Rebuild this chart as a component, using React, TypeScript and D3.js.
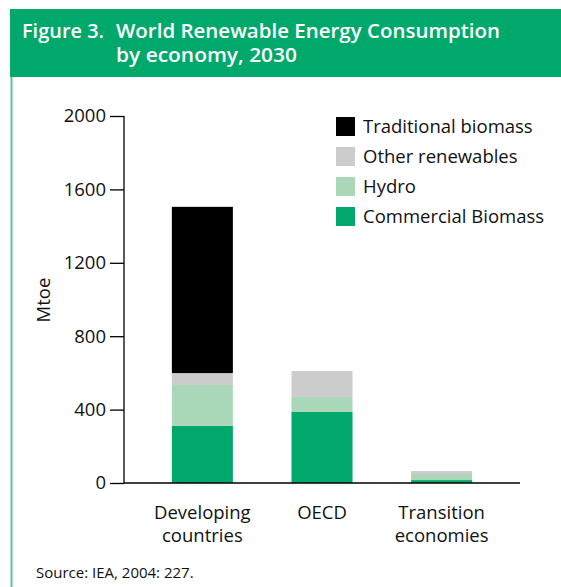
import React, {useEffect, useRef} from "react";
import * as d3 from "d3";

// data (Mtoe)
const economies = ["Developing countries", "OECD", "Transition economies"];
const economyLines = [["Developing", "countries"], ["OECD"], ["Transition", "economies"]];
const commercialBiomass = [311, 387, 16];
const hydro = [223, 82, 33];
const otherRenewables = [65, 141, 16];
const traditionalBiomass = [906, 0, 0];

const seriesNames = ["Commercial Biomass", "Hydro", "Other renewables", "Traditional biomass"];
const seriesColors = ["#00a96b", "#a9d7b8", "#cccccc", "#000000"];
const yTicks = [0, 400, 800, 1200, 1600, 2000];

const FONT = "'Open Sans', 'DejaVu Sans', sans-serif";

export default function App() {
    const ref = useRef<SVGSVGElement>(null);

    useEffect(() => {
        const svg = d3.select(ref.current);
        svg.selectAll("*").remove();

        // header band
        svg.append("rect").attr("x", 10).attr("y", 9).attr("width", 551).attr("height", 68).attr("fill", "#00a96b");
        svg.append("line").attr("x1", 11.5).attr("x2", 11.5).attr("y1", 77).attr("y2", 587)
            .attr("stroke", "#5cc79c").attr("stroke-width", 2);

        const titleStyle = (t: any) => t.attr("fill", "#fff")
            .style("font-family", "'Open Sans', sans-serif").style("font-size", "19px").style("font-weight", 600)
            .attr("lengthAdjust", "spacingAndGlyphs");
        svg.append("text").call(titleStyle).attr("x", 22).attr("y", 38).attr("textLength", 82).text("Figure 3.");
        svg.append("text").call(titleStyle).attr("x", 116).attr("y", 38).attr("textLength", 384)
            .text("World Renewable Energy Consumption");
        svg.append("text").call(titleStyle).attr("x", 116).attr("y", 62).attr("textLength", 181)
            .text("by economy, 2030");

        const y = d3.scaleLinear().domain([0, 2000]).range([483, 116]);
        const x = d3.scaleBand<string>().domain(economies).range([124, 520]).paddingInner(0.49).paddingOuter(0.4);

        const rows = economies.map((e, i) => ({
            economy: e,
            "Commercial Biomass": commercialBiomass[i],
            "Hydro": hydro[i],
            "Other renewables": otherRenewables[i],
            "Traditional biomass": traditionalBiomass[i],
        }));
        const stacked = d3.stack<any>().keys(seriesNames)(rows);

        svg.append("g").selectAll("g")
            .data(stacked)
            .join("g")
            .attr("fill", (d, i) => seriesColors[i])
            .selectAll("rect")
            .data(d => d)
            .join("rect")
            .attr("x", (d: any) => x(d.data.economy)!)
            .attr("width", x.bandwidth())
            .attr("y", d => y(d[1]))
            .attr("height", d => y(d[0]) - y(d[1]));

        // y axis
        const yAxis = svg.append("g").attr("transform", "translate(124,0)")
            .call(d3.axisLeft(y).tickValues(yTicks).tickSize(14).tickPadding(4).tickFormat(d3.format("d")));
        yAxis.select(".domain").attr("stroke", "#000").attr("stroke-width", 1.3).attr("d", "M0,116V483");
        yAxis.selectAll(".tick line").attr("stroke", "#000").attr("stroke-width", 1.3);
        yAxis.selectAll(".tick text").attr("fill", "#111").style("font-family", FONT).style("font-size", "18.5px");

        // baseline
        svg.append("line").attr("x1", 124).attr("x2", 520).attr("y1", y(0)).attr("y2", y(0))
            .attr("stroke", "#000").attr("stroke-width", 1.6);

        svg.append("text").attr("transform", "translate(50,300) rotate(-90)").attr("text-anchor", "middle")
            .style("font-family", FONT).style("font-size", "18.5px").attr("fill", "#111").text("Mtoe");

        // category labels
        const cat = svg.append("g").selectAll("text").data(economies).join("text")
            .attr("text-anchor", "middle")
            .style("font-family", FONT).style("font-size", "18.5px").attr("fill", "#111");
        cat.each(function (d, i) {
            const t = d3.select(this);
            economyLines[i].forEach((line, j) => {
                t.append("tspan").attr("x", x(d)! + x.bandwidth() / 2).attr("y", 519 + j * 23).text(line);
            });
        });

        // legend
        const legendOrder = [3, 2, 1, 0];
        const legend = svg.append("g").selectAll("g").data(legendOrder).join("g")
            .attr("transform", (d, i) => `translate(336,${117 + i * 30})`);
        legend.append("rect").attr("width", 19).attr("height", 19).attr("fill", d => seriesColors[d]);
        legend.append("text").attr("x", 27).attr("y", 16)
            .style("font-family", FONT).style("font-size", "18.5px").attr("fill", "#111")
            .text(d => seriesNames[d]);

        svg.append("text").attr("x", 36).attr("y", 578)
            .style("font-family", FONT).style("font-size", "15px").attr("fill", "#111")
            .text("Source: IEA, 2004: 227.");
    }, []);

    return (
        <svg ref={ref} width={561} height={587} style={{position: "absolute", left: 0, top: 0, background: "#fff"}}/>
    );
}
